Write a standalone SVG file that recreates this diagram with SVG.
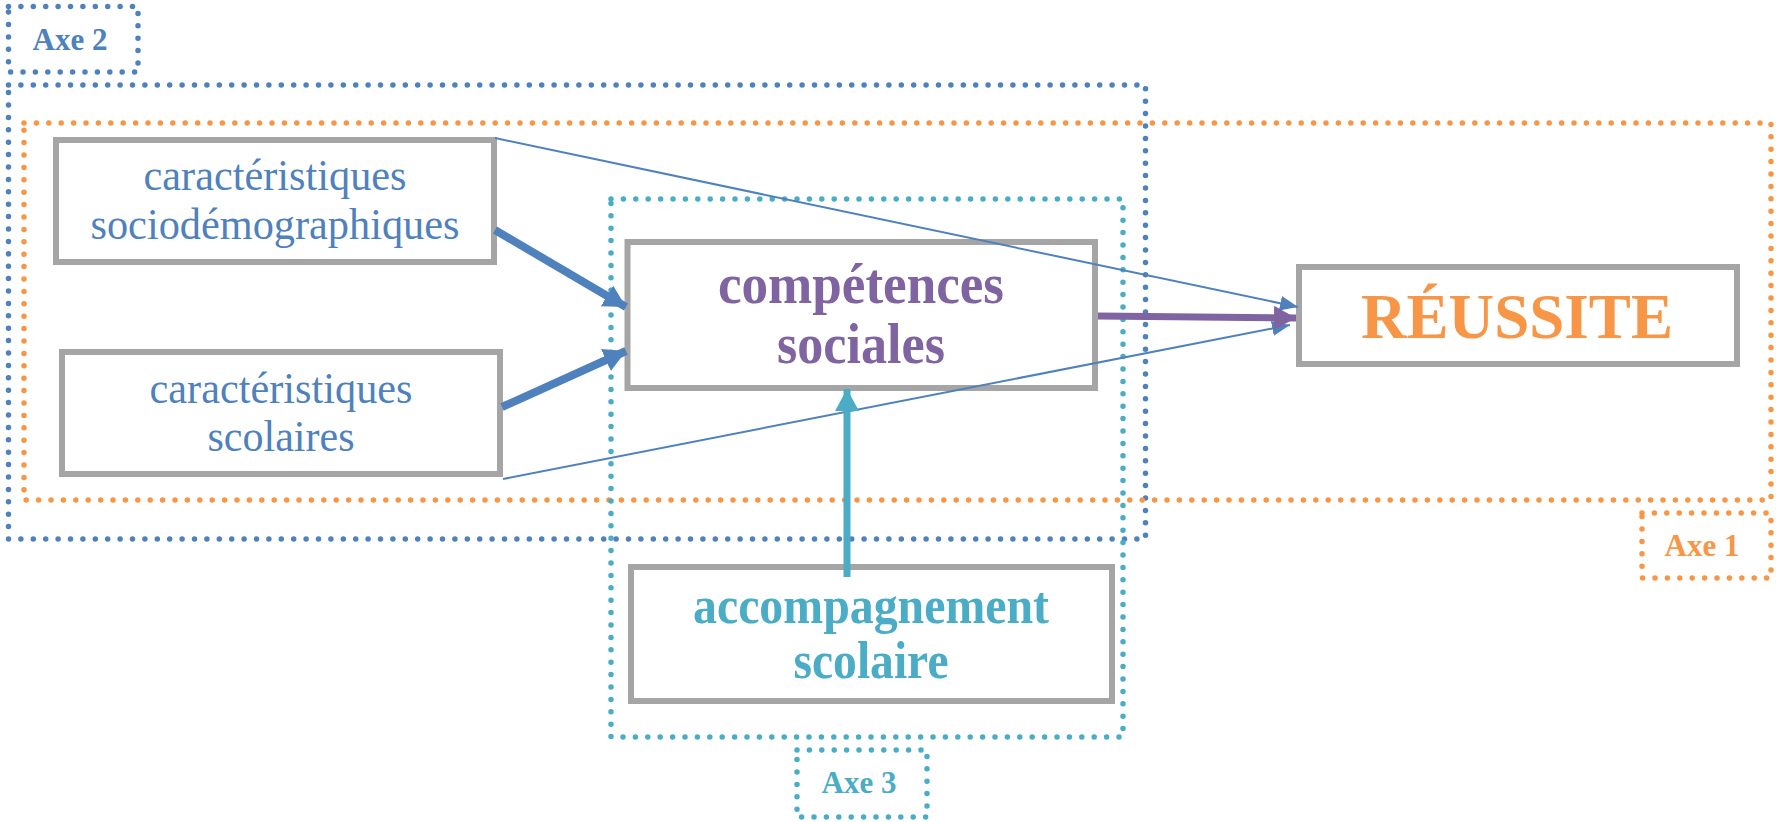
<svg xmlns="http://www.w3.org/2000/svg" width="1776" height="822" viewBox="0 0 1776 822">
<style>
.frame{fill:none;stroke-width:5.5;stroke-linecap:round;stroke-dasharray:0 12.4}
.blue{stroke:#4F81BD}
.orange{stroke:#F79646}
.cyan{stroke:#4BACC6}
.node{fill:#FFFFFF;stroke:#A5A5A5;stroke-width:6}
.reg{font-family:"Liberation Serif","Times New Roman",serif;font-size:45px;fill:#4F81BD;text-anchor:middle}
.bold{font-family:"Liberation Serif","Times New Roman",serif;font-weight:bold;text-anchor:middle}
.axe{font-size:31px}
</style>
<defs>
<marker id="thickBlue" markerUnits="userSpaceOnUse" markerWidth="24" markerHeight="24" refX="22" refY="12" orient="auto"><path d="M0,0 L22,12 L0,24 z" fill="#4F81BD"/></marker>
<marker id="thinBlue" markerUnits="userSpaceOnUse" markerWidth="20" markerHeight="16" refX="18" refY="7.5" orient="auto"><path d="M0,0 L18,7.5 L0,15 z" fill="#4F81BD"/></marker>
<marker id="thickPurple" markerUnits="userSpaceOnUse" markerWidth="24" markerHeight="24" refX="22" refY="12" orient="auto"><path d="M0,0 L22,12 L0,24 z" fill="#8064A2"/></marker>
<marker id="thickCyan" markerUnits="userSpaceOnUse" markerWidth="24" markerHeight="24" refX="22" refY="12" orient="auto"><path d="M0,0 L22,12 L0,24 z" fill="#4BACC6"/></marker>
</defs>
<rect width="1776" height="822" fill="#FFFFFF"/>

<g id="axe2">
<rect class="frame blue" x="8.5" y="6.5" width="129.5" height="65.5"/>
<text class="bold axe" x="70" y="50" fill="#4F81BD">Axe 2</text>
</g>
<g id="axe2-frame"><rect class="frame blue" x="8.5" y="85" width="1137" height="454"/></g>
<g id="axe1-frame"><rect class="frame orange" x="24" y="123" width="1747" height="377"/></g>
<g id="axe1">
<rect class="frame orange" x="1642" y="513" width="129" height="65"/>
<text class="bold axe" x="1702" y="556" fill="#F79646">Axe 1</text>
</g>
<g id="axe3-frame"><rect class="frame cyan" x="611" y="199" width="512" height="538"/></g>
<g id="axe3">
<rect class="frame cyan" x="797" y="750" width="130" height="67"/>
<text class="bold axe" x="859" y="793" fill="#4BACC6">Axe 3</text>
</g>

<g id="sociodemo">
<rect class="node" x="56" y="140" width="438" height="122"/>
<text class="reg" x="275" y="190" textLength="263" lengthAdjust="spacingAndGlyphs">caractéristiques</text>
<text class="reg" x="275" y="239" textLength="369" lengthAdjust="spacingAndGlyphs">sociodémographiques</text>
</g>
<g id="scolaires">
<rect class="node" x="62" y="352" width="438" height="122"/>
<text class="reg" x="281" y="403" textLength="263" lengthAdjust="spacingAndGlyphs">caractéristiques</text>
<text class="reg" x="281" y="451" textLength="147" lengthAdjust="spacingAndGlyphs">scolaires</text>
</g>
<g id="competences">
<rect class="node" x="627.5" y="242" width="467.5" height="146"/>
<text class="bold" x="861" y="303" font-size="56" fill="#8064A2" textLength="286" lengthAdjust="spacingAndGlyphs">compétences</text>
<text class="bold" x="861" y="363" font-size="56" fill="#8064A2" textLength="168" lengthAdjust="spacingAndGlyphs">sociales</text>
</g>
<g id="reussite">
<rect class="node" x="1299" y="267" width="438" height="97"/>
<text class="bold" x="1517" y="338" font-size="64" fill="#F79646" textLength="312" lengthAdjust="spacingAndGlyphs">RÉUSSITE</text>
</g>
<g id="accompagnement">
<rect class="node" x="631" y="567" width="481" height="134"/>
<text class="bold" x="871" y="623" font-size="53" fill="#4BACC6" textLength="356" lengthAdjust="spacingAndGlyphs">accompagnement</text>
<text class="bold" x="871" y="678" font-size="53" fill="#4BACC6" textLength="155" lengthAdjust="spacingAndGlyphs">scolaire</text>
</g>

<g id="connectors" fill="none" stroke-linecap="butt">
<line x1="495" y1="138" x2="1298" y2="307" stroke="#4F81BD" stroke-width="2" marker-end="url(#thinBlue)"/>
<line x1="503" y1="479" x2="1290" y2="325" stroke="#4F81BD" stroke-width="2" marker-end="url(#thinBlue)"/>
<line x1="495" y1="230" x2="626" y2="307" stroke="#4F81BD" stroke-width="8" marker-end="url(#thickBlue)"/>
<line x1="502" y1="407" x2="626" y2="351" stroke="#4F81BD" stroke-width="8" marker-end="url(#thickBlue)"/>
<line x1="1098" y1="316" x2="1296" y2="318" stroke="#8064A2" stroke-width="7" marker-end="url(#thickPurple)"/>
<line x1="847" y1="577" x2="847" y2="389" stroke="#4BACC6" stroke-width="7" marker-end="url(#thickCyan)"/>
</g>
</svg>
